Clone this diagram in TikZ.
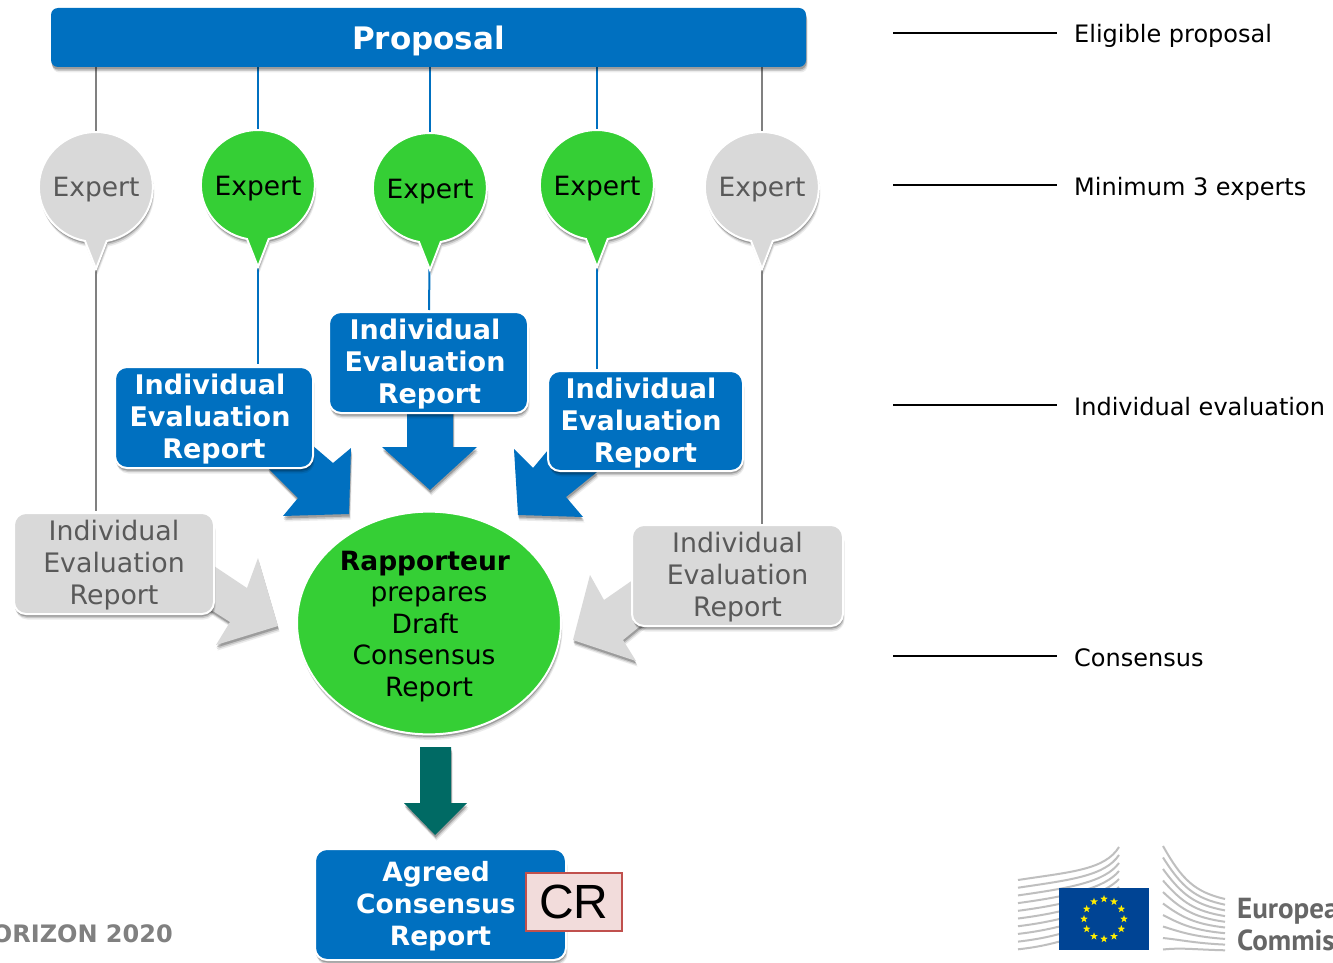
\documentclass[tikz,border=0pt]{standalone}
\usepackage{fontspec}
\setmainfont{DejaVu Sans}
\newfontfamily\crfont{Liberation Sans}
\newfontfamily\ecfont{PT Sans}
\usetikzlibrary{shapes.geometric,shadows,calc}
\definecolor{ecblue}{HTML}{0070C0}
\definecolor{ecgreen}{HTML}{35CF35}
\definecolor{ecgrey}{HTML}{D9D9D9}
\definecolor{ecteal}{HTML}{006A64}
\definecolor{txgrey}{HTML}{595959}
\definecolor{ecflag}{HTML}{004494}
\definecolor{crfill}{HTML}{F2DCDB}
\definecolor{crline}{HTML}{C0504D}
\newcommand{\lowertwo}{\rule{0pt}{24pt}}
\newcommand{\lowerthree}{\rule{0pt}{26pt}}
\tikzset{
  x=1pt,y=-1pt,
  softshadow/.style={
    general shadow={shadow xshift=1.5pt,shadow yshift=-5.5pt,fill=black,opacity=.08},
    general shadow={shadow xshift=1pt,shadow yshift=-4pt,fill=black,opacity=.14},
    general shadow={shadow xshift=.5pt,shadow yshift=-2.5pt,fill=black,opacity=.22}},
  rbox/.style={rounded corners=12pt,draw=white,line width=2pt,softshadow,
    text width=190pt,align=center,inner sep=0pt,font=\fontsize{26.8}{32}\selectfont},
  bluebox/.style={rbox,fill=ecblue,text=white},
  greybox/.style={rbox,fill=ecgrey,text=txgrey},
  bluerep/.style={bluebox,font=\fontsize{27}{32}\selectfont\bfseries},
  bubbletext/.style={circle,minimum size=112pt,inner sep=0pt,font=\fontsize{26.5}{32}\selectfont},
  bluelink/.style={draw=ecblue,line width=2pt},
  greylink/.style={draw=black!50,line width=2pt},
  bigarrow/.style={softshadow},
  rule/.style={draw=black,line width=1.6pt},
  sidelabel/.style={anchor=base west,inner sep=0pt,font=\fontsize{24}{28}\selectfont},
  bldline/.style={draw=black!25,line width=2pt},
  starmark/.style={star,star points=5,star point ratio=2.5,fill=yellow!95!orange,minimum size=8pt,inner sep=0pt},
  ectext/.style={anchor=base west,inner sep=0pt,text=black!60,font=\ecfont\fontsize{29}{30}\selectfont\bfseries}
}
\begin{document}
\begin{tikzpicture}
\clip (0,0) rectangle (1333,963);
\fill[white] (0,0) rectangle (1333,963);

% Nodes that anchor the connectors
\node[draw=none,minimum width=755pt,minimum height=59pt,inner sep=0pt] (prop) at (428.5,37.5) {};
\node[bubbletext] (e1) at (96,187) {};
\node[bubbletext] (e2) at (258,186) {};
\node[bubbletext] (e3) at (430,189) {};
\node[bubbletext] (e4) at (597,186) {};
\node[bubbletext] (e5) at (762,187) {};
\coordinate (t1) at (96,268);
\coordinate (t2) at (258,266);
\coordinate (t3) at (429.5,269);
\coordinate (t4) at (597,266);
\coordinate (t5) at (762,268);
\coordinate (b1) at (96,511);
\coordinate (b2) at (258,364);
\coordinate (b3) at (429,310);
\coordinate (b4) at (597,369);
\coordinate (b5) at (762,524);

% Connectors
\draw[greylink] (e1.center |- prop.south) -- (e1.north);
\draw[bluelink] (e2.center |- prop.south) -- (e2.north);
\draw[bluelink] (e3.center |- prop.south) -- (e3.north);
\draw[bluelink] (e4.center |- prop.south) -- (e4.north);
\draw[greylink] (e5.center |- prop.south) -- (e5.north);
\draw[greylink] (t1) -- (b1);
\draw[bluelink] (t2) -- (b2);
\draw[bluelink] (t3) -- (b3);
\draw[bluelink] (t4) -- (b4);
\draw[greylink] (t5) -- (b5);

% Large arrows
\fill[ecblue,bigarrow] (407,405) -- (453,405) -- (453,447) -- (477,447) -- (430,490) -- (382,447) -- (407,447) -- cycle;
\fill[ecblue,bigarrow] (268,468) -- (312,445) -- (333,463) -- (351,448) -- (349,514) -- (283,516) -- (298,498) -- cycle;
\fill[ecblue,bigarrow] (597,472) -- (548,450) -- (533,468) -- (514,449) -- (518,515) -- (583,517) -- (566,497) -- cycle;
\fill[ecgrey,bigarrow] (205,560) -- (247,588) -- (258,558) -- (278,626) -- (216,645) -- (230,622) -- (205,606) -- cycle;
\fill[ecgrey,bigarrow] (650,618) -- (623,640) -- (636,661) -- (573,640) -- (590,575) -- (604,600) -- (640,575) -- cycle;
\fill[ecteal,bigarrow] (420,747) -- (451,747) -- (451,803) -- (467,803) -- (435,835) -- (404,803) -- (420,803) -- cycle;

% Proposal
\node[fill=ecblue,rounded corners=7pt,softshadow,minimum width=755pt,minimum height=59pt,inner sep=0pt,
  text=white,font=\fontsize{31}{36}\selectfont\bfseries] (proptext) at (prop.center) {\rule{0pt}{30pt}Proposal};

% Experts
\foreach \px/\py/\c in {96/186/ecgrey,258/184/ecgreen,430/187/ecgreen,597/184/ecgreen,762/186/ecgrey}{
  \path[fill=\c,draw=white,line width=2pt,softshadow]
    (\px-11,\py+55) arc[start angle=259,end angle=-79,x radius=57pt,y radius=55pt] -- (\px,\py+83) -- cycle;
}
\node[bubbletext,text=txgrey] (x1) at (e1.center) {\rule{0pt}{25.5pt}Expert};
\node[bubbletext,text=black] (x2) at (e2.center) {\rule{0pt}{25.5pt}Expert};
\node[bubbletext,text=black] (x3) at (e3.center) {\rule{0pt}{25.5pt}Expert};
\node[bubbletext,text=black] (x4) at (e4.center) {\rule{0pt}{25.5pt}Expert};
\node[bubbletext,text=txgrey] (x5) at (e5.center) {\rule{0pt}{25.5pt}Expert};

% Individual reports
\node[bluerep,minimum width=198pt,minimum height=101pt] (r2) at (214,417.5) {\lowertwo Individual\kern8pt\\Evaluation\kern8pt\\Report};
\node[bluerep,minimum width=199pt,minimum height=101pt] (r3) at (428.5,362.5) {\lowertwo Individual\kern7pt\\Evaluation\kern7pt\\Report\kern-2pt};
\node[bluerep,minimum width=195pt,minimum height=100pt] (r4) at (645.5,421) {\lowertwo Individual\kern9pt\\Evaluation\kern9pt\\Report};
\node[greybox,minimum width=200pt,minimum height=101pt] (r1) at (114,563.5) {\lowertwo Individual\\Evaluation\\Report};
\node[greybox,minimum width=211pt,minimum height=101pt] (r5) at (737.5,575.5) {\lowertwo Individual\\Evaluation\\Report};

% Rapporteur
\node[ellipse,fill=ecgreen,draw=white,line width=2pt,softshadow,minimum width=264pt,minimum height=222pt,
  inner sep=0pt,align=center,font=\fontsize{26.5}{31.5}\selectfont] (rap) at (429,623)
  {\lowerthree{\bfseries Rapporteur}\kern8pt\\prepares\\Draft\kern8pt\\Consensus\kern10pt\\Report};

% Agreed
\node[bluerep,minimum width=251pt,minimum height=111pt,text width=240pt,font=\fontsize{26.5}{32}\selectfont\bfseries] (agr) at (440.5,904.5)
  {\lowertwo Agreed\kern9pt\\Consensus\kern9pt\\Report};
\node[draw=crline,fill=crfill,line width=1.2pt,minimum width=96pt,minimum height=58pt,inner sep=0pt,
  font=\crfont\fontsize{48}{50}\selectfont] (cr) at (574,902) {CR};

% Side labels
\coordinate (l1a) at (893,33); \coordinate (l1b) at (1057,33);
\coordinate (l2a) at (893,185); \coordinate (l2b) at (1057,185);
\coordinate (l3a) at (893,405); \coordinate (l3b) at (1057,405);
\coordinate (l4a) at (893,656); \coordinate (l4b) at (1057,656);
\draw[rule] (l1a) -- (l1b);
\draw[rule] (l2a) -- (l2b);
\draw[rule] (l3a) -- (l3b);
\draw[rule] (l4a) -- (l4b);
\node[sidelabel] (s1) at (1074,43) {Eligible proposal};
\node[sidelabel] (s2) at (1074,195) {Minimum 3 experts};
\node[sidelabel] (s3) at (1074,415) {Individual evaluation};
\node[sidelabel] (s4) at (1074,666) {Consensus};

% Footer
\node[anchor=east,inner sep=0pt,text=black!50,font=\fontsize{24}{28}\selectfont\bfseries] (hz) at (173,934) {HORIZON 2020};

% Commission logo
\foreach \i in {0,...,9} {
  \draw[bldline] (1018,880+7.7*\i) .. controls (1070,872+8*\i) and (1105,870+6*\i) .. (1119,847+8*\i);
  \draw[bldline] (1163,846+11.5*\i) .. controls (1182,880+7.5*\i) and (1195,892+6.4*\i) .. (1225,899+5.7*\i);
}
\fill[ecflag] (1059,888) rectangle (1149,950);
\foreach \a in {0,30,...,330} {
  \node[starmark] (star\a) at ($(1104,919)+(\a:20pt)$) {};
}
\node[ectext] (ec1) at (1237,918) {European};
\node[ectext] (ec2) at (1237,950) {Commission};
\end{tikzpicture}
\end{document}
